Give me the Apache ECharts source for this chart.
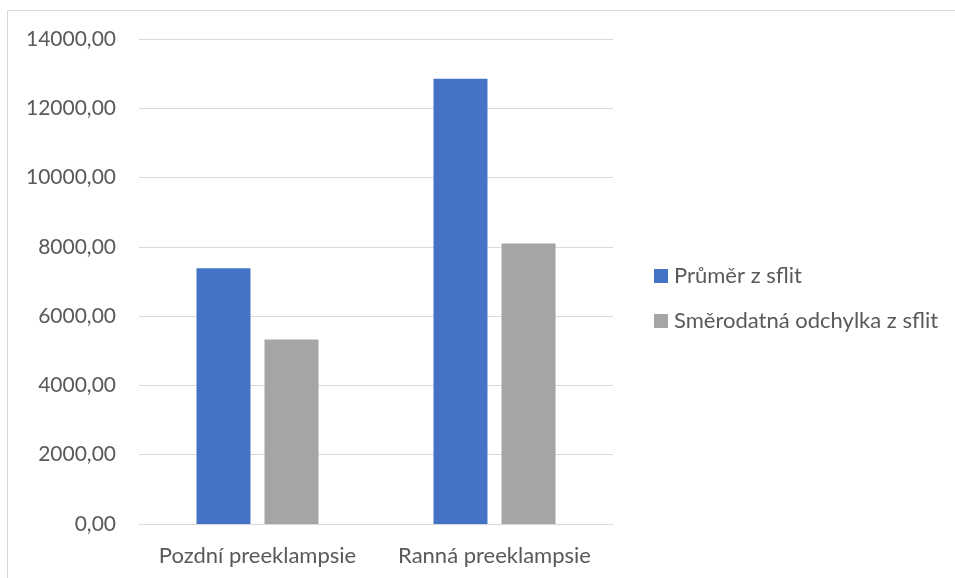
<!DOCTYPE html>
<html>
<head>
<meta charset="utf-8">
<script src="https://cdn.jsdelivr.net/npm/echarts@6/dist/echarts.min.js"></script>
<style>html,body{margin:0;padding:0;background:#fff;}#c{width:955px;height:578px;}</style>
</head>
<body>
<div id="c"></div>
<script>
const categories = ['Pozdní preeklampsie', 'Ranná preeklampsie'];
const seriesNames = ['Průměr z sflit', 'Směrodatná odchylka z sflit'];
const meanValues = [7380, 12850];
const sdValues = [5325, 8100];
const yTicks = { min: 0, max: 14000, interval: 2000 };

const chart = echarts.init(document.getElementById('c'), null, { renderer: 'canvas' });
const font = 'Lato';
chart.setOption({
  animation: false,
  backgroundColor: '#fff',
  graphic: [{
    type: 'rect',
    shape: { x: 7.5, y: 10.5, width: 2000, height: 2000 },
    style: { fill: 'none', stroke: '#d9d9d9', lineWidth: 1 },
    silent: true
  }],
  grid: { left: 139, right: 342, top: 39, bottom: 54, containLabel: false },
  legend: {
    orient: 'vertical',
    left: 654,
    top: 265,
    padding: 0,
    itemWidth: 14,
    itemHeight: 14,
    itemGap: 23,
    icon: 'rect',
    textStyle: { fontFamily: font, fontSize: 22, color: '#595959', lineHeight: 22, padding: [0, 0, 0, 1] },
    data: seriesNames
  },
  xAxis: {
    type: 'category',
    data: categories,
    axisLine: { lineStyle: { color: '#d9d9d9', width: 1 } },
    axisTick: { show: false },
    axisLabel: { interval: 0, hideOverlap: false, fontFamily: font, fontSize: 22, color: '#595959', margin: 21 }
  },
  yAxis: {
    type: 'value',
    min: yTicks.min,
    max: yTicks.max,
    interval: yTicks.interval,
    axisLine: { show: false },
    axisTick: { show: false },
    splitLine: { lineStyle: { color: '#d9d9d9', width: 1 } },
    axisLabel: {
      fontFamily: font, fontSize: 21, color: '#595959', margin: 23,
      formatter: v => v.toFixed(2).replace('.', ',')
    }
  },
  series: [
    { name: seriesNames[0], type: 'bar', data: meanValues, barWidth: 54, barGap: '26%', itemStyle: { color: '#4472C4' } },
    { name: seriesNames[1], type: 'bar', data: sdValues, barWidth: 54, barGap: '26%', itemStyle: { color: '#A5A5A5' } }
  ]
});
</script>
</body>
</html>
